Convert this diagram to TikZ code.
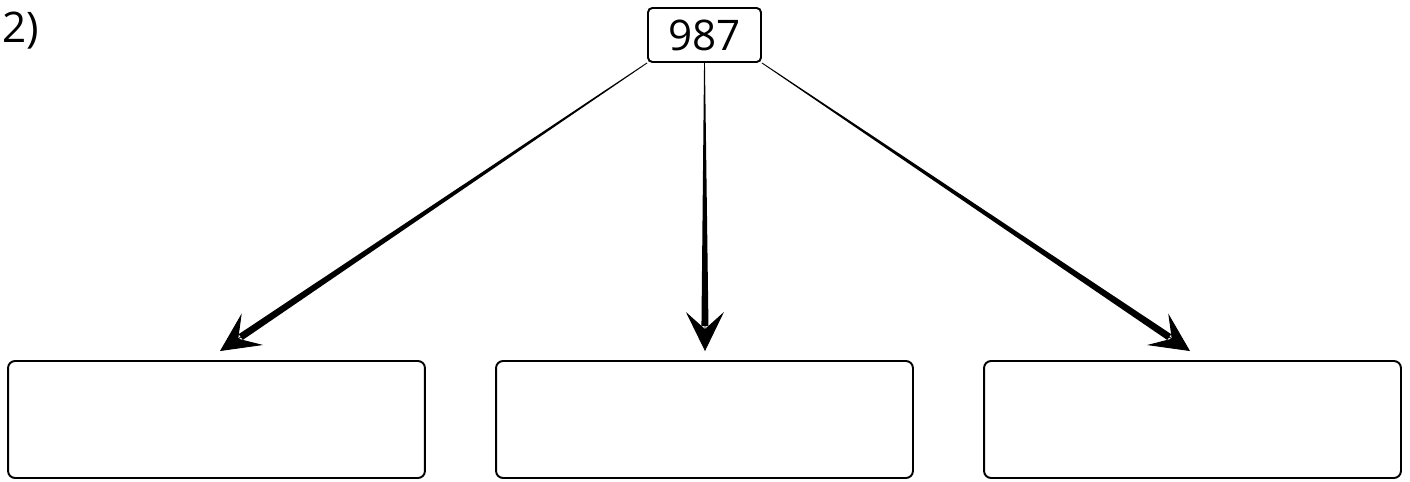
\documentclass[tikz,border=0pt]{standalone}
\usepackage{fontspec}
\setmainfont{Open Sans}
\usetikzlibrary{arrows.meta,calc}
\tikzset{
  numbox/.style={draw, line width=1.1pt, rounded corners=2.5pt, minimum width=2.26cm, minimum height=1.08cm, inner sep=0pt, font=\fontsize{24}{28}\selectfont},
  emptybox/.style={draw, line width=1.1pt, rounded corners=4pt, minimum width=8.34cm, minimum height=2.34cm},
  headtip/.style={-{Stealth[length=0.78cm,width=0.76cm,inset=0.34cm]}, line width=0.5pt}
}
\begin{document}
\begin{tikzpicture}[x=0.02cm,y=-0.02cm]
        \useasboundingbox (0,0) rectangle (1410,482);
        \node[anchor=base west, inner sep=0pt, font=\fontsize{24}{28}\selectfont] (label) at (2,43) {2)};
        \node[numbox] (top) at (704.5,35) {987};
        \foreach \n/\x in {left/216.5, mid/704.5, right/1192.5} {
                \node[emptybox] (\n) at (\x,419.5) {};
            }
        \coordinate (tipleft) at ($(left.north)+(3.5,-9)$);
        \coordinate (tipmid) at ($(mid.north)+(0.5,-9)$);
        \coordinate (tipright) at ($(right.north)+(-2.5,-9)$);
        \foreach \s/\t in {top.south west/tipleft, top.south/tipmid, top.south east/tipright} {
                \coordinate (e) at ($(\t)!0.5cm!(\s)$);
                \fill ($(\s)!0.25pt!90:(e)$) -- ($(e)!2pt!-90:(\s)$) -- ($(e)!2pt!90:(\s)$) -- ($(\s)!0.25pt!-90:(e)$) -- cycle;
                \draw[headtip] (e) -- (\t);
            }
    \end{tikzpicture}
\end{document}
